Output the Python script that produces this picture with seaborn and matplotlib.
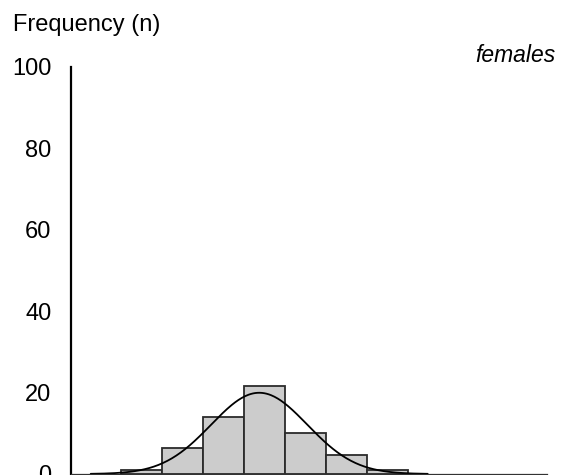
import numpy as np
import matplotlib
matplotlib.use("Agg")
import matplotlib.pyplot as plt
import seaborn as sns

# class midpoints (bin units) and frequencies
class_mids = [1.5, 2.5, 3.5, 4.5, 5.5, 6.5, 7.5]
freqs = [1, 6.5, 14, 21.5, 10, 4.7, 1]
bin_edges = [1, 2, 3, 4, 5, 6, 7, 8]
y_ticks = [0, 20, 40, 60, 80, 100]

sns.set_theme(style="white")
plt.rcParams['font.family'] = ['Liberation Sans', 'DejaVu Sans']
plt.rcParams['text.color'] = 'black'
plt.rcParams['ytick.color'] = 'black'

fig = plt.figure(figsize=(5.63, 4.75), dpi=100)
ax = fig.add_axes([71/563, 1/475, 476/563, 407.3/475])

sns.histplot(x=class_mids, weights=freqs, bins=bin_edges, ax=ax,
             color='#cccccc', edgecolor='#2b2b2b', linewidth=1.3, alpha=1)

# normal curve fitted to the grouped data (Sheppard-corrected variance)
mids = np.array(class_mids)
f = np.array(freqs)
n = f.sum()
mu = (mids * f).sum() / n
var = ((mids - mu) ** 2 * f).sum() / n - 1/12
sd = np.sqrt(var)
xs = np.linspace(mu - 3.5*sd, mu + 3.5*sd, 300)
ys = n * 1.0 / (sd * np.sqrt(2*np.pi)) * np.exp(-0.5*((xs - mu)/sd)**2)
sns.lineplot(x=xs, y=ys, color='black', linewidth=1.3, ax=ax)

ax.set_xlim(-0.22, 11.39)
ax.set_ylim(0, 100)
ax.set_yticks(y_ticks)
ax.set_yticklabels([str(t) for t in y_ticks], fontsize=17, color='black')
ax.set_xticks([])
ax.tick_params(axis='y', length=0, pad=14)
ax.set_xlabel('')
ax.set_ylabel('')
for s in ['top', 'right']:
    ax.spines[s].set_visible(False)
ax.spines['left'].set_color('black')
ax.spines['left'].set_linewidth(1.6)
ax.spines['bottom'].set_color('#333333')
ax.spines['bottom'].set_linewidth(0.9)

fig.text(13/563, (475-25)/475, 'Frequency (n)', fontsize=17, ha='left',
         va='center', color='black')
fig.text(555/563, (475-55)/475, 'females', fontsize=16.5, style='italic',
         ha='right', va='center', color='black')

fig.savefig('out.png', dpi=100)
